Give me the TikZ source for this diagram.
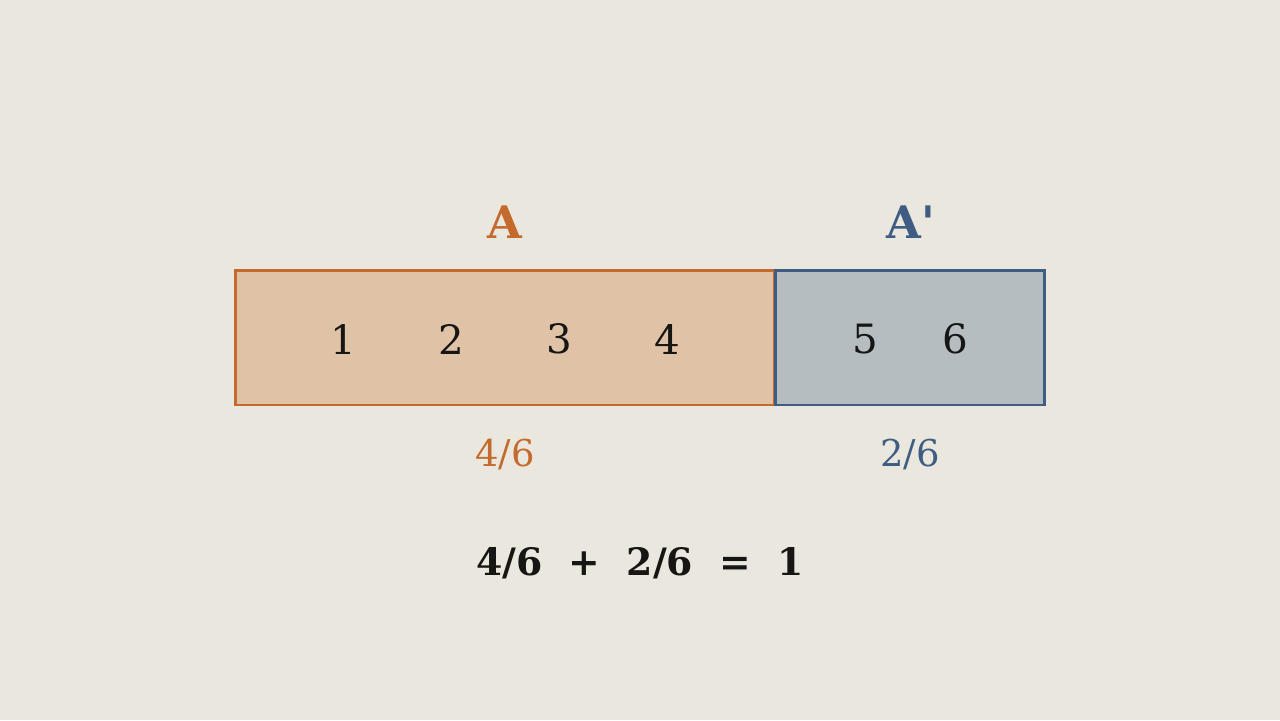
\documentclass[tikz,border=0pt]{standalone}
\usepackage{fontspec}
\setmainfont{DejaVu Serif}
\usetikzlibrary{positioning}

\definecolor{paper}{HTML}{EAE8DE}
\definecolor{rust}{HTML}{C56A2D}
\definecolor{rustfill}{HTML}{E0C3A7}
\definecolor{slate}{HTML}{3F5D82}
\definecolor{slatefill}{HTML}{B6BDC1}
\definecolor{ink}{HTML}{161614}

\begin{document}
\begin{tikzpicture}[
        x=0.02cm, y=-0.02cm,
        % Estilo das caixas
        box style/.style = {
            draw,
            rectangle,
            line width=1.7pt,
            minimum height=2.7cm,
            inner sep=0pt
        },
        % Estilo dos números dentro das caixas
        cell label/.style = {
            font=\fontsize{23}{28}\selectfont,
            text=ink
        },
        % Estilo dos nomes dos eventos
        set label/.style = {
            font=\fontsize{25.5}{30}\selectfont\bfseries
        },
        % Estilo das frações
        frac label/.style = {
            font=\fontsize{21}{26}\selectfont
        }
    ]
    \fill[paper] (0,0) rectangle (1280,720);
    \useasboundingbox (0,0) rectangle (1280,720);

    % Caixas
    \node[box style, draw=rust, fill=rustfill, minimum width=10.8cm] (boxA) at (505,337.5) {};
    \node[box style, draw=slate, fill=slatefill, minimum width=5.4cm] (boxB) at (910,337.5) {};

    % Números
    \foreach \n in {1,...,4}
        \node[cell label] (cell\n) at (235+108*\n,339) {\n};
    \foreach \n [count=\i] in {5,6}
        \node[cell label] (cell\n) at (775+90*\i,339) {\n};

    % Nomes
    \node[set label, text=rust] (nameA) at (505,222) {A};
    \node[set label, text=slate] (nameB) at (911,222) {A\textquotesingle};

    % Frações
    \node[frac label, text=rust] (fracA) at (505,455) {4/6};
    \node[frac label, text=slate] (fracB) at (910,455) {2/6};

    % Soma
    \node[font=\fontsize{21.5}{26}\selectfont\bfseries, text=ink] (sum) at (640,563) {4/6~~+~~2/6~~=~~1};
\end{tikzpicture}
\end{document}
